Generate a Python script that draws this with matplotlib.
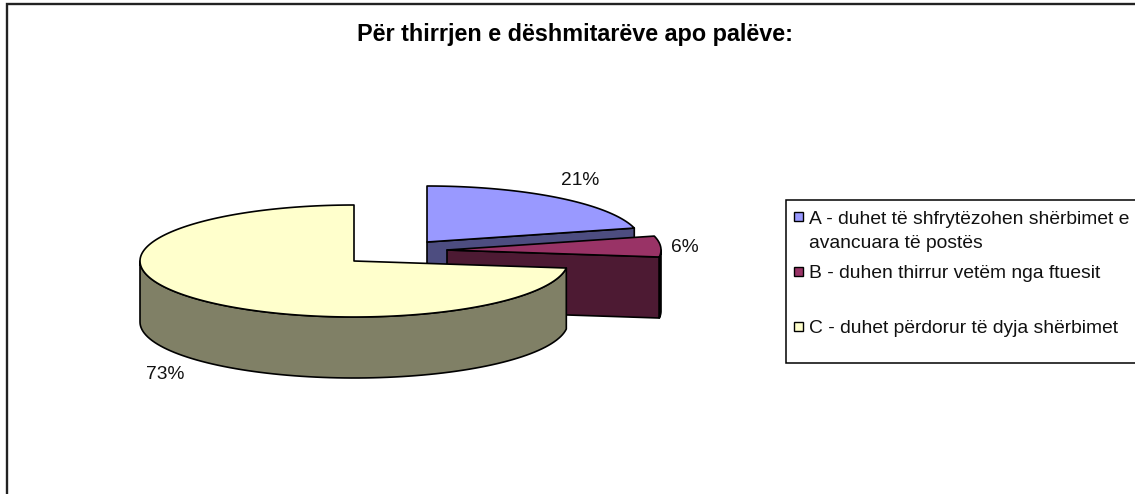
import numpy as np
import matplotlib
matplotlib.use("Agg")
import matplotlib.pyplot as plt
from matplotlib.patches import Polygon, Rectangle

title = "Për thirrjen e dëshmitarëve apo palëve:"
categories = ["A - duhet të shfrytëzohen shërbimet e\navancuara të postës",
              "B - duhen thirrur vetëm nga ftuesit",
              "C - duhet përdorur të dyja shërbimet"]
values = [21, 6, 73]
top_colors = ["#9999FF", "#993366", "#FFFFCC"]
side_colors = ["#4D4D80", "#4D1A33", "#808066"]

W, H = 1135, 494
RX, RY, DEPTH = 214, 56, 61
apexes = [(427, 242), (447, 250), (354, 261)]
label_pos = [(580, 180), (685, 247), (165, 374)]
legend_y = [217, 271.5, 326.5]

plt.rcParams['font.family'] = ['Liberation Sans', 'DejaVu Sans']
fig = plt.figure(figsize=(W / 100, H / 100), dpi=100)
ax = fig.add_axes([0, 0, 1, 1])
ax.set_xlim(0, W)
ax.set_ylim(H, 0)
ax.axis("off")

# chart frame (runs off the right and bottom of the picture)
ax.add_patch(Rectangle((7, 4), W + 20, H + 20, fc="white", ec="#222222", lw=1.7, zorder=0))


def rim(i, a0, a1, n=90):
    t = np.radians(np.linspace(a0, a1, n))
    cx, cy = apexes[i]
    return np.column_stack([cx + RX * np.sin(t), cy - RY * np.cos(t)])


def wall(i, a0, a1):
    r = rim(i, a0, a1)
    low = r[::-1] + [0, DEPTH]
    return np.vstack([r, low])


edges = np.concatenate([[0], np.cumsum(values)]) * 360 / sum(values)
kw = dict(ec="black", lw=1.2, joinstyle="round")
z = 2
for i in range(len(values)):
    a0, a1 = edges[i], edges[i + 1]
    cx, cy = apexes[i]
    # radial face at the clockwise end of the slice, when it looks at the viewer
    if a1 < 180:
        p = rim(i, a1, a1, 1)[0]
        ax.add_patch(Polygon([(cx, cy), p, p + [0, DEPTH], (cx, cy + DEPTH)],
                             fc=side_colors[i], zorder=z, **kw))
    # outer wall: only the part on the front half of the ellipse
    s0, s1 = max(a0, 90), min(a1, 270)
    if s1 > s0:
        ax.add_patch(Polygon(wall(i, s0, s1), fc=side_colors[i], zorder=z, **kw))
    ax.add_patch(Polygon(np.vstack([[(cx, cy)], rim(i, a0, a1, 180)]),
                         fc=top_colors[i], zorder=z + 0.5, **kw))
    z += 1

for v, (x, y) in zip(values, label_pos):
    ax.text(x, y, f"{v}%", ha="center", va="center", fontsize=13.8, color="#111111", zorder=10)

ax.text(575, 35, title, ha="center", va="center", fontsize=16.8, fontweight="bold", zorder=10)

# legend box
ax.add_patch(Rectangle((785.5, 200), W, 163, fc="white", ec="black", lw=1.1, zorder=5))
for c, lab, y in zip(top_colors, categories, legend_y):
    ax.add_patch(Rectangle((793.5, y - 5), 9, 9, fc=c, ec="black", lw=1.0, zorder=6))
    for k, line in enumerate(lab.split("\n")):
        ax.text(809, y + 6.5 + 24 * k, line, ha="left", va="baseline",
                fontsize=13.9, color="#111111", zorder=7)

fig.savefig("out.png", dpi=100)
